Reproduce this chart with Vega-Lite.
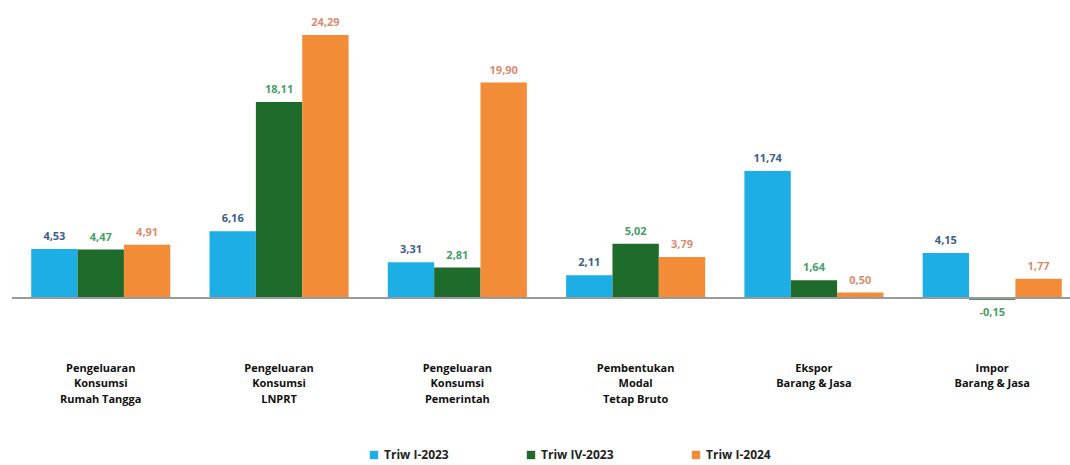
{
  "$schema": "https://vega.github.io/schema/vega-lite/v6.json",
  "width": 1058,
  "height": 342,
  "autosize": {"type": "none"},
  "padding": {"left": 12, "top": 8, "right": 0, "bottom": 115},
  "background": "white",
  "config": {
    "view": {"stroke": null},
    "locale": {"number": {"decimal": ",", "thousands": ".", "grouping": [3], "currency": ["Rp", ""], "minus": "-"}},
    "font": "Open Sans"
  },
  "data": {
    "values": [
      {"kategori": "Pengeluaran|Konsumsi|Rumah Tangga", "periode": "Triw I-2023", "nilai": 4.53},
      {"kategori": "Pengeluaran|Konsumsi|Rumah Tangga", "periode": "Triw IV-2023", "nilai": 4.47},
      {"kategori": "Pengeluaran|Konsumsi|Rumah Tangga", "periode": "Triw I-2024", "nilai": 4.91},
      {"kategori": "Pengeluaran|Konsumsi|LNPRT", "periode": "Triw I-2023", "nilai": 6.16},
      {"kategori": "Pengeluaran|Konsumsi|LNPRT", "periode": "Triw IV-2023", "nilai": 18.11},
      {"kategori": "Pengeluaran|Konsumsi|LNPRT", "periode": "Triw I-2024", "nilai": 24.29},
      {"kategori": "Pengeluaran|Konsumsi|Pemerintah", "periode": "Triw I-2023", "nilai": 3.31},
      {"kategori": "Pengeluaran|Konsumsi|Pemerintah", "periode": "Triw IV-2023", "nilai": 2.81},
      {"kategori": "Pengeluaran|Konsumsi|Pemerintah", "periode": "Triw I-2024", "nilai": 19.90},
      {"kategori": "Pembentukan|Modal|Tetap Bruto", "periode": "Triw I-2023", "nilai": 2.11},
      {"kategori": "Pembentukan|Modal|Tetap Bruto", "periode": "Triw IV-2023", "nilai": 5.02},
      {"kategori": "Pembentukan|Modal|Tetap Bruto", "periode": "Triw I-2024", "nilai": 3.79},
      {"kategori": "Ekspor|Barang & Jasa", "periode": "Triw I-2023", "nilai": 11.74},
      {"kategori": "Ekspor|Barang & Jasa", "periode": "Triw IV-2023", "nilai": 1.64},
      {"kategori": "Ekspor|Barang & Jasa", "periode": "Triw I-2024", "nilai": 0.50},
      {"kategori": "Impor|Barang & Jasa", "periode": "Triw I-2023", "nilai": 4.15},
      {"kategori": "Impor|Barang & Jasa", "periode": "Triw IV-2023", "nilai": -0.15},
      {"kategori": "Impor|Barang & Jasa", "periode": "Triw I-2024", "nilai": 1.77}
    ]
  },
  "encoding": {
    "x": {
      "field": "kategori", "type": "nominal", "sort": null,
      "scale": {"paddingInner": 0.22, "paddingOuter": 0.077, "align": 0.7},
      "axis": {
        "title": null, "domain": false, "ticks": false, "labelAngle": 0,
        "labelExpr": "split(datum.label, '|')",
        "labelFont": "Open Sans", "labelFontWeight": "bold", "labelFontSize": 11,
        "labelColor": "#111111", "labelLineHeight": 15.5, "labelPadding": 12,
        "labelBaseline": "top"
      }
    },
    "xOffset": {
      "field": "periode", "type": "nominal",
      "sort": ["Triw I-2023", "Triw IV-2023", "Triw I-2024"],
      "scale": {"paddingInner": 0, "paddingOuter": 0}
    },
    "y": {
      "field": "nilai", "type": "quantitative",
      "scale": {"domain": [-4.8, 26.78], "nice": false, "zero": false},
      "axis": null
    }
  },
  "layer": [
    {
      "mark": {"type": "bar"},
      "encoding": {
        "color": {
          "field": "periode", "type": "nominal",
          "sort": ["Triw I-2023", "Triw IV-2023", "Triw I-2024"],
          "scale": {"domain": ["Triw I-2023", "Triw IV-2023", "Triw I-2024"], "range": ["#1DAEE6", "#1F6B2B", "#F28C36"]},
          "legend": {
            "title": null, "orient": "none", "legendX": 356, "legendY": 441, "direction": "horizontal",
            "symbolType": "square", "symbolSize": 70, "symbolStrokeWidth": 0,
            "labelFont": "Open Sans", "labelFontWeight": "bold", "labelFontSize": 12,
            "labelColor": "#222222", "columnPadding": 76
          }
        }
      }
    },
    {
      "mark": {"type": "rule", "color": "#9a9a9a", "strokeWidth": 1.5},
      "encoding": {"x": null, "xOffset": null, "y": {"datum": 0}}
    },
    {
      "transform": [{"filter": "datum.nilai >= 0"}],
      "mark": {"type": "text", "baseline": "bottom", "dy": -7, "font": "Open Sans", "fontWeight": "bold", "fontSize": 11},
      "encoding": {
        "text": {"field": "nilai", "type": "quantitative", "format": ".2f"},
        "color": {
          "field": "periode", "type": "nominal",
          "scale": {"domain": ["Triw I-2023", "Triw IV-2023", "Triw I-2024"], "range": ["#3D5E8C", "#46A065", "#D98C6E"]},
          "legend": null
        }
      }
    },
    {
      "transform": [{"filter": "datum.nilai < 0"}],
      "mark": {"type": "text", "baseline": "top", "dy": 7, "font": "Open Sans", "fontWeight": "bold", "fontSize": 11},
      "encoding": {
        "text": {"field": "nilai", "type": "quantitative", "format": ".2f"},
        "color": {
          "field": "periode", "type": "nominal",
          "scale": {"domain": ["Triw I-2023", "Triw IV-2023", "Triw I-2024"], "range": ["#3D5E8C", "#46A065", "#D98C6E"]},
          "legend": null
        }
      }
    }
  ],
  "resolve": {"scale": {"color": "independent"}}
}
